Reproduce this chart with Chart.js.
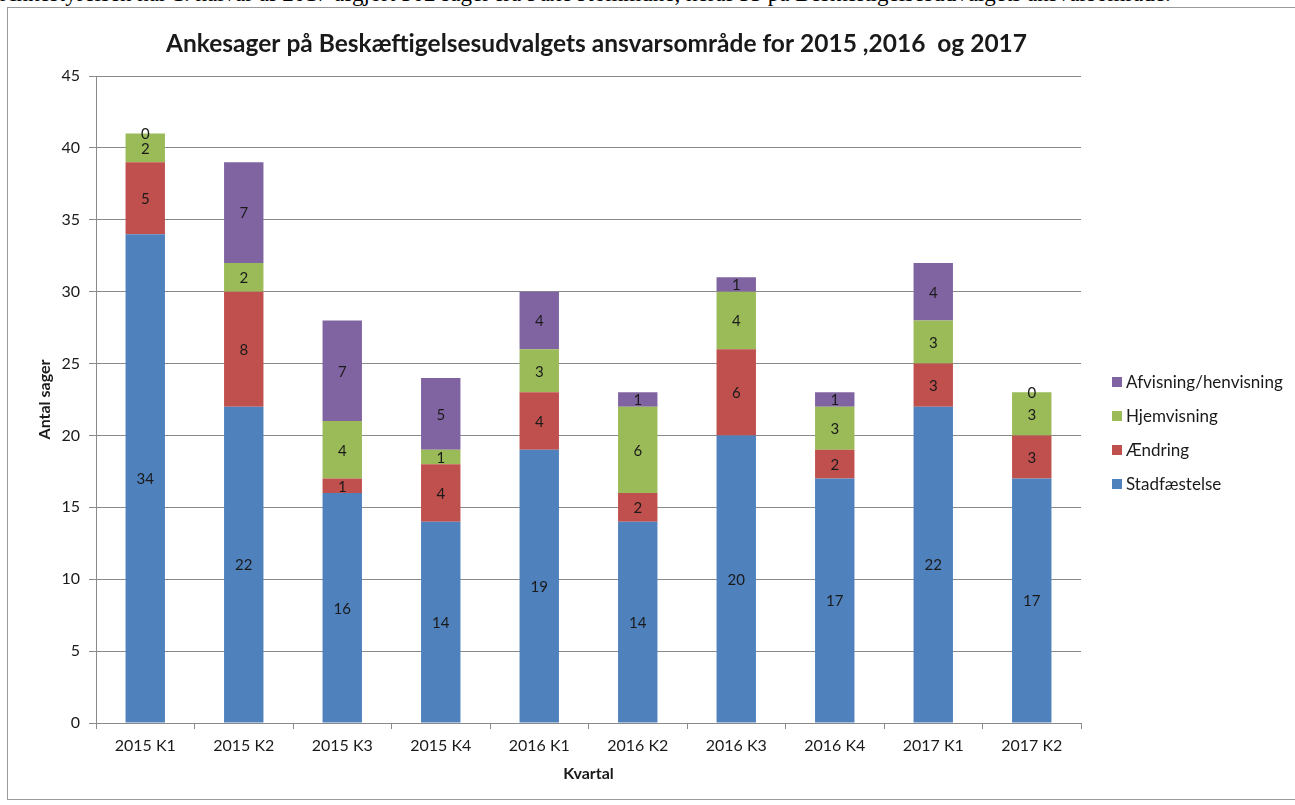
<!DOCTYPE html>
<html>
<head>
<meta charset="utf-8">
<script src="https://cdn.jsdelivr.net/npm/chart.js@4/dist/chart.umd.min.js"></script>
<style>
  html, body { margin: 0; padding: 0; background: #fff; overflow: hidden; }
  body { width: 1295px; height: 805px; position: relative; }
  .intro {
    position: absolute; left: 0; top: -19px; white-space: nowrap;
    font-family: "Liberation Serif", serif; font-size: 23px; line-height: 26px; color: #000;
  }
  .frame {
    position: absolute; left: 7px; top: 7px; width: 1300px; height: 793px;
    border: 1px solid #9a9a9a; box-sizing: border-box; background: #fff;
  }
  .chart-box { position: absolute; left: 8px; top: 8px; width: 1287px; height: 793px; }
</style>
</head>
<body>
<div class="intro">Ankestyrelsen har 1. halvår af 2017 afgjort 302 sager fra Faxe Kommune, heraf 33 på Beskæftigelsesudvalgets ansvarsområde.</div>
<div class="frame"></div>
<div class="chart-box"><canvas id="chart" width="1287" height="793"></canvas></div>
<script>
// Kvartaler og antal sager pr. afgørelsestype
const quarters = ['2015 K1', '2015 K2', '2015 K3', '2015 K4', '2016 K1', '2016 K2', '2016 K3', '2016 K4', '2017 K1', '2017 K2'];
const stadfaestelse = [34, 22, 16, 14, 19, 14, 20, 17, 22, 17];
const aendring = [5, 8, 1, 4, 4, 2, 6, 2, 3, 3];
const hjemvisning = [2, 2, 4, 1, 3, 6, 4, 3, 3, 3];
const afvisning = [0, 7, 7, 5, 4, 1, 1, 1, 4, 0];

const titleText = 'Ankesager på Beskæftigelsesudvalgets ansvarsområde for 2015 ,2016  og 2017';
const FONT = 'Lato, "Open Sans", sans-serif';
const gridColor = '#8a8a8a';

// Tal midt i hvert stykke af søjlen
const valueLabels = {
  id: 'valueLabels',
  afterDatasetsDraw(chart) {
    const ctx = chart.ctx;
    ctx.save();
    ctx.font = '15px ' + FONT;
    ctx.fillStyle = '#1a1a1a';
    ctx.textAlign = 'center';
    ctx.textBaseline = 'middle';
    chart.data.datasets.forEach((ds, i) => {
      chart.getDatasetMeta(i).data.forEach((bar, j) => {
        ctx.fillText(String(ds.data[j]), bar.x, (bar.y + bar.base) / 2 + 1);
      });
    });
    ctx.restore();
  }
};

// Titel og forklaring tegnes selv, så de kan placeres som i Excel
const titleAndLegend = {
  id: 'titleAndLegend',
  afterDraw(chart) {
    const ctx = chart.ctx;
    const area = chart.chartArea;
    ctx.save();
    ctx.fillStyle = '#1a1a1a';
    ctx.font = 'bold 24.5px ' + FONT;
    ctx.textAlign = 'center';
    ctx.textBaseline = 'middle';
    ctx.fillText(titleText, (area.left + area.right) / 2 + 8, 36);

    ctx.font = '17px ' + FONT;
    ctx.textAlign = 'left';
    const items = chart.data.datasets.slice().reverse();
    items.forEach((ds, k) => {
      const y = area.top + 306 + k * 34;
      const x = area.right + 31;
      ctx.fillStyle = ds.backgroundColor;
      ctx.fillRect(x, y - 5, 10, 10);
      ctx.fillStyle = '#1a1a1a';
      ctx.fillText(ds.label, x + 14, y + 1);
    });
    ctx.restore();
  }
};

new Chart(document.getElementById('chart'), {
  type: 'bar',
  data: {
    labels: quarters,
    datasets: [
      { label: 'Stadfæstelse', data: stadfaestelse, backgroundColor: '#4f81bd' },
      { label: 'Ændring', data: aendring, backgroundColor: '#c0504d' },
      { label: 'Hjemvisning', data: hjemvisning, backgroundColor: '#9bbb59' },
      { label: 'Afvisning/henvisning', data: afvisning, backgroundColor: '#8064a2' }
    ]
  },
  options: {
    responsive: false,
    devicePixelRatio: 1,
    animation: false,
    barPercentage: 0.4,
    categoryPercentage: 1,
    layout: { padding: { top: 68, right: 214, bottom: 14, left: 23 } },
    plugins: {
      legend: { display: false },
      title: { display: false },
      tooltip: { enabled: false }
    },
    scales: {
      x: {
        stacked: true,
        afterFit(scale) { scale.height = 64; },
        grid: { drawOnChartArea: false, color: gridColor, tickLength: 6, offset: true },
        border: { color: gridColor },
        ticks: { color: '#1a1a1a', font: { family: FONT, size: 16 }, padding: 7, maxRotation: 0 },
        title: { display: true, text: 'Kvartal', color: '#1a1a1a', font: { family: FONT, size: 16, weight: 'bold' } }
      },
      y: {
        stacked: true,
        min: 0,
        max: 45,
        afterFit(scale) { scale.width = 65; },
        grid: { color: gridColor, tickLength: 7 },
        border: { color: gridColor },
        ticks: { stepSize: 5, color: '#1a1a1a', font: { family: FONT, size: 16 }, padding: 9 },
        title: { display: true, text: 'Antal sager', color: '#1a1a1a', font: { family: FONT, size: 16, weight: 'bold' } }
      }
    }
  },
  plugins: [valueLabels, titleAndLegend]
});
</script>
</body>
</html>
